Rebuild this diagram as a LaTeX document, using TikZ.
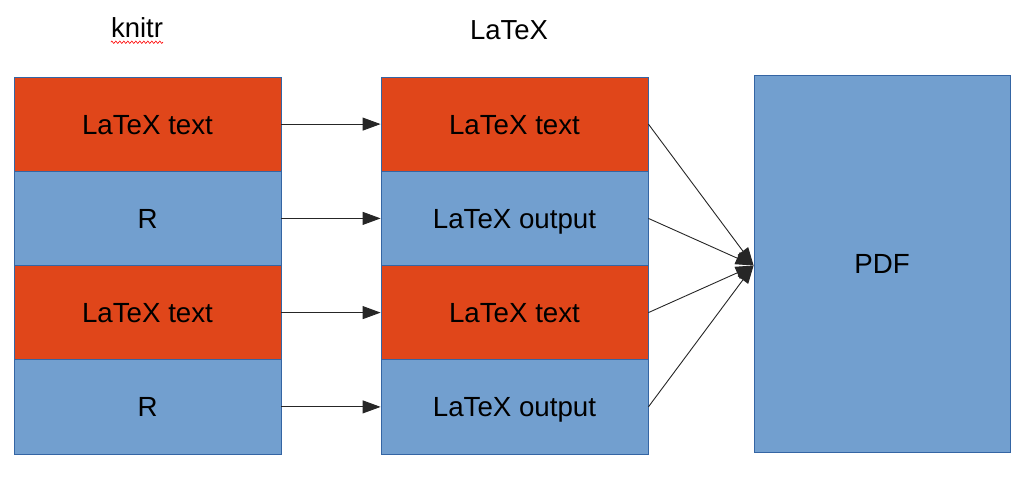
\documentclass[tikz,border=0pt]{standalone}
\usepackage{fontspec}
\setmainfont{Liberation Sans}
\usetikzlibrary{arrows.meta,decorations.pathmorphing}
\definecolor{boxorange}{HTML}{E0461A}
\definecolor{boxblue}{HTML}{729FCF}
\definecolor{boxline}{HTML}{3465A4}
\begin{document}
\begin{tikzpicture}[x=1pt,y=-1pt,
  cell/.style={draw=boxline,line width=0.8pt,minimum width=267pt,minimum height=94.25pt,inner sep=0pt,
    font=\fontsize{27.7}{32}\selectfont,text height=20pt,text depth=0pt},
  orangecell/.style={cell,fill=boxorange},
  bluecell/.style={cell,fill=boxblue},
  title/.style={font=\fontsize{27.5}{32}\selectfont,inner sep=0pt},
  link/.style={draw=black!85,line width=0.9pt,-{Triangle[length=18pt,width=13pt]}}]
\useasboundingbox (0,0) rectangle (1024,476);
\node[title] (tk) at (137,28) {knitr};
\node[title] (tl) at (509,30) {LaTeX};
\draw[red,line width=0.6pt,decorate,decoration={zigzag,amplitude=1.2pt,segment length=4pt}] ([yshift=-4pt]tk.south west) -- ([yshift=-4pt]tk.south east);
\node[orangecell] (a1) at (147.5,124.1) {LaTeX text};
\node[bluecell]   (a2) at (147.5,218.4) {R};
\node[orangecell] (a3) at (147.5,312.6) {LaTeX text};
\node[bluecell]   (a4) at (147.5,406.9) {R};
\node[orangecell] (b1) at (514.5,124.1) {LaTeX text};
\node[bluecell]   (b2) at (514.5,218.4) {LaTeX output};
\node[orangecell] (b3) at (514.5,312.6) {LaTeX text};
\node[bluecell]   (b4) at (514.5,406.9) {LaTeX output};
\node[cell,fill=boxblue,minimum width=256pt,minimum height=377pt] (p) at (882,263.5) {PDF};
\coordinate (pin) at ([yshift=-2pt]p.west);
\foreach \i in {1,...,4}{
  \draw[link] (a\i.east) -- (b\i.west);
  \draw[link] (b\i.east) -- (pin);
}
\end{tikzpicture}
\end{document}
